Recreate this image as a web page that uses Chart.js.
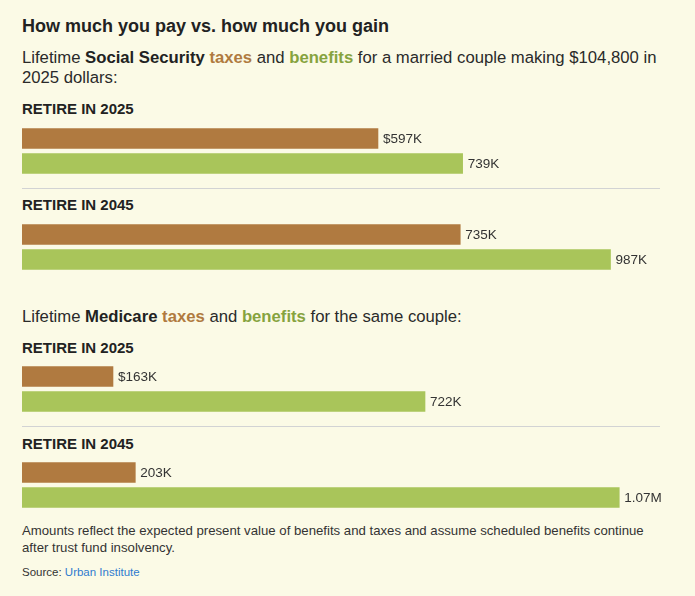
<!DOCTYPE html>
<html>
<head>
<meta charset="utf-8">
<script src="https://cdn.jsdelivr.net/npm/chart.js@4.4.1/dist/chart.umd.min.js"></script>
<style>
  html, body {
    margin: 0;
    padding: 0;
    background: #fbfae6;
  }
  body {
    width: 695px;
    height: 596px;
    position: relative;
    overflow: hidden;
    font-family: "Liberation Sans", Arial, sans-serif;
    color: #2a2a2a;
  }
  .abs { position: absolute; left: 22px; white-space: nowrap; }
  .title { font-size: 18px; line-height: 18px; font-weight: bold; color: #222; top: 16.5px; }
  .sub { font-size: 16.7px; line-height: 20px; }
  .sub b { color: #222; }
  .tx { color: #b07a40; font-weight: bold; }
  .bn { color: #86a33e; font-weight: bold; }
  .head { font-size: 15px; line-height: 15px; font-weight: bold; color: #222; }
  .rule { position: absolute; left: 22px; width: 638px; height: 1px; background: #d2d3d4; }
  .chart { position: absolute; left: 22px; }
  .note { font-size: 13.2px; line-height: 17px; color: #333; top: 522px; }
  .src { font-size: 11.5px; line-height: 11.5px; color: #333; top: 567px; }
  .src span { color: #2f7bcf; }
</style>
</head>
<body>
<div class="abs title">How much you pay vs. how much you gain</div>
<div class="abs sub" style="top:47.5px">Lifetime <b>Social Security</b> <span class="tx">taxes</span> and <span class="bn">benefits</span> for a married couple making $104,800 in<br>2025 dollars:</div>

<div class="abs head" style="top:100.6px">RETIRE IN 2025</div>
<canvas class="chart" id="ss2025" width="673" height="50" style="top:125.5px"></canvas>
<div class="rule" style="top:188px"></div>
<div class="abs head" style="top:196.6px">RETIRE IN 2045</div>
<canvas class="chart" id="ss2045" width="673" height="50" style="top:221.5px"></canvas>

<div class="abs sub" style="top:306.9px">Lifetime <b>Medicare</b> <span class="tx">taxes</span> and <span class="bn">benefits</span> for the same couple:</div>

<div class="abs head" style="top:339.6px">RETIRE IN 2025</div>
<canvas class="chart" id="med2025" width="673" height="50" style="top:363.5px"></canvas>
<div class="rule" style="top:426px"></div>
<div class="abs head" style="top:435.6px">RETIRE IN 2045</div>
<canvas class="chart" id="med2045" width="673" height="50" style="top:460.2px"></canvas>

<div class="abs note">Amounts reflect the expected present value of benefits and taxes and assume scheduled benefits continue<br>after trust fund insolvency.</div>
<div class="abs src">Source: <span>Urban Institute</span></div>

<script>
// values in thousands of dollars, one entry per retirement year
const retireYears = ["2025", "2045"];
const ssTaxes = [597, 735];
const ssBenefits = [739, 987];
const medTaxes = [163, 203];
const medBenefits = [722, 1070];

const TAX_COLOR = "#b07a40";
const BENEFIT_COLOR = "#a9c55a";

// each section has its own x scale
const SS_MAX = 1070;
const MED_MAX = 1143;

function fmt(v) {
  if (v >= 1000) return (v / 1000).toFixed(2) + "M";
  return v + "K";
}

// draws the value text just past the end of each bar
const valueLabels = {
  id: "valueLabels",
  afterDatasetsDraw(chart) {
    const ctx = chart.ctx;
    const opts = chart.options.plugins.valueLabels;
    ctx.save();
    ctx.font = '13.5px "Liberation Sans", Arial, sans-serif';
    ctx.fillStyle = "#333";
    ctx.textBaseline = "alphabetic";
    chart.getDatasetMeta(0).data.forEach((bar, i) => {
      const v = chart.data.datasets[0].data[i];
      let text = fmt(v);
      if (opts.dollar && i === 0) text = "$" + text;
      ctx.fillText(text, bar.x + 5, bar.y + 4.8);
    });
    ctx.restore();
  },
};

function drawPair(id, tax, benefit, max, dollar) {
  const ctx = document.getElementById(id).getContext("2d");
  new Chart(ctx, {
    type: "bar",
    data: {
      labels: ["taxes", "benefits"],
      datasets: [
        {
          data: [tax, benefit],
          backgroundColor: [TAX_COLOR, BENEFIT_COLOR],
          barThickness: 20,
          borderWidth: 0,
        },
      ],
    },
    options: {
      indexAxis: "y",
      responsive: false,
      animation: false,
      layout: { padding: { left: 0, right: 35, top: 0, bottom: 0 } },
      scales: {
        x: { display: false, min: 0, max: max },
        y: { display: false },
      },
      plugins: {
        legend: { display: false },
        tooltip: { enabled: false },
        valueLabels: { dollar: dollar },
      },
    },
    plugins: [valueLabels],
  });
}

drawPair("ss2025", ssTaxes[0], ssBenefits[0], SS_MAX, true);
drawPair("ss2045", ssTaxes[1], ssBenefits[1], SS_MAX, false);
drawPair("med2025", medTaxes[0], medBenefits[0], MED_MAX, true);
drawPair("med2045", medTaxes[1], medBenefits[1], MED_MAX, false);
</script>
</body>
</html>
